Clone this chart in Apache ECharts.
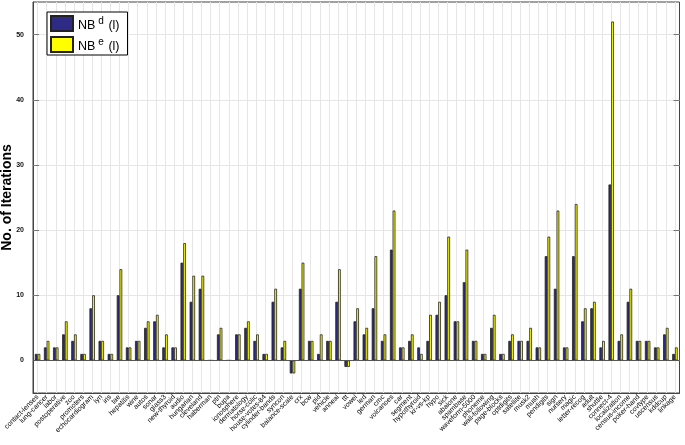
<!DOCTYPE html>
<html>
<head>
<meta charset="utf-8">
<script src="https://cdn.jsdelivr.net/npm/echarts@6/dist/echarts.min.js"></script>
<style>
html,body{margin:0;padding:0;background:#fff;}
#chart{width:685px;height:445px;}
</style>
</head>
<body>
<div id="chart"></div>
<script>
const categories = [
  'contact-lenses','lung-cancer','labor','postoperative','zoo','promoters','echocardiogram','lyn','iris','tae',
  'hepatitis','wine','autos','sonar','glass3','new-thyroid','audio','hungarian','cleveland','haberman',
  'ptn','bupa','ionosphere','dermatology','horse-colic','house-votes-84','cylinder-bands','syncon','balance-scale','crx',
  'bcw','pid','vehicle','anneal','ttt','vowel','led','german','cmc','volcanoes',
  'car','segment','hypothyroid','kr-vs-kp','hypo','sick','abalone','spambase','waveform-5000','phoneme',
  'wall-following','page-blocks','optdigits','satellite','musk2','mush','pendigits','sign','nursery','magic',
  'letter-recog','adult','shuttle','connect-4','localization','census-income','poker-hand','covtype','uscensus','kddcup','linkage'
];
const nbD = [
  1,2,2,4,3,1,8,3,1,10,
  2,3,5,6,2,2,15,9,11,0,
  4,0,4,5,3,1,9,2,-2,11,
  3,1,3,9,-1,6,4,8,3,17,
  2,3,2,3,7,10,6,12,3,1,
  5,1,3,3,3,2,16,11,2,16,
  6,8,2,27,3,9,3,3,2,4,1
];
const nbE = [
  1,3,2,6,4,1,10,3,1,14,
  2,3,6,7,4,2,18,13,13,0,
  5,0,4,6,4,1,11,3,-2,15,
  3,4,3,14,-1,8,5,16,4,23,
  2,4,1,7,9,19,6,17,3,1,
  7,1,4,3,5,2,19,23,2,24,
  8,9,3,52,4,11,3,3,2,5,2
];
const yTicks = [0,10,20,30,40,50];
const seriesNames = ['NBd (l)','NBe (l)'];

const chart = echarts.init(document.getElementById('chart'), null, {renderer:'canvas'});
const font = 'Liberation Sans';
const barBorder = {borderColor:'#222', borderWidth:0.8};
chart.setOption({
  animation:false,
  backgroundColor:'#fff',
  textStyle:{fontFamily:font},
  grid:{left:33, right:5.5, top:2, bottom:52, show:true, borderColor:'#444', borderWidth:1,
        backgroundColor:'transparent', outerBoundsMode:'none', containLabel:false},
  legend:{
    data:seriesNames, orient:'vertical', left:47, top:12,
    backgroundColor:'#fff', borderColor:'#000', borderWidth:1, borderRadius:0,
    padding:[3,8,2,3], itemWidth:22, itemHeight:15, itemGap:4,
    icon:'rect',
    formatter: n => n.replace(/NB(\w) \(l\)/, '{m|NB}{s|$1}{m| (l)}'),
    textStyle:{rich:{
      m:{fontSize:12.5, fontFamily:font, color:'#000', lineHeight:16, padding:[4,0,0,0]},
      s:{fontSize:10, fontFamily:font, color:'#000', lineHeight:16, padding:[0,1,4,3]}
    }}
  },
  xAxis:[{
    type:'category', data:categories, boundaryGap:true, position:'bottom',
    axisLine:{onZero:false, show:true, lineStyle:{color:'#444'}},
    axisTick:{inside:true, alignWithLabel:true, length:6, lineStyle:{color:'#777'}},
    splitLine:{show:true, alignWithLabel:true, lineStyle:{color:'#e6e6e6', width:1}},
    axisLabel:{rotate:45, interval:0, fontSize:7, color:'#000', margin:3, fontFamily:font}
  },{
    type:'category', data:categories, boundaryGap:true, position:'top',
    axisLine:{show:false},
    axisTick:{inside:true, alignWithLabel:true, length:5, lineStyle:{color:'#777'}},
    axisLabel:{show:false}, splitLine:{show:false}
  }],
  yAxis:[{
    type:'value', min:-5, max:55, position:'left',
    name:'No. of Iterations', nameLocation:'middle', nameGap:19, nameMoveOverlap:false,
    nameTextStyle:{fontSize:14, fontWeight:'bold', color:'#000', fontFamily:font},
    axisLine:{show:true, lineStyle:{color:'#444'}},
    axisTick:{show:true, inside:true, length:6, customValues:yTicks, lineStyle:{color:'#777'}},
    axisLabel:{customValues:yTicks, fontSize:7, fontWeight:'bold', color:'#111', margin:9, fontFamily:font},
    splitLine:{show:true, lineStyle:{color:'#e6e6e6'}}
  },{
    type:'value', min:-5, max:55, position:'right',
    axisLine:{show:false},
    axisTick:{show:true, inside:true, length:6, customValues:yTicks, lineStyle:{color:'#777'}},
    axisLabel:{show:false}, splitLine:{show:false}
  }],
  series:[{
    name:seriesNames[0], type:'bar', data:nbD, barWidth:'30%', barGap:'0%',
    itemStyle:Object.assign({color:'#2e2a86'}, barBorder),
    markLine:{silent:true, symbol:'none', label:{show:false}, lineStyle:{color:'#555', type:'solid', width:1},
      data:[{yAxis:0}]}
  },{
    name:seriesNames[1], type:'bar', data:nbE, barWidth:'30%', barGap:'0%',
    itemStyle:Object.assign({color:'#ffff00'}, barBorder)
  }]
});
</script>
</body>
</html>
